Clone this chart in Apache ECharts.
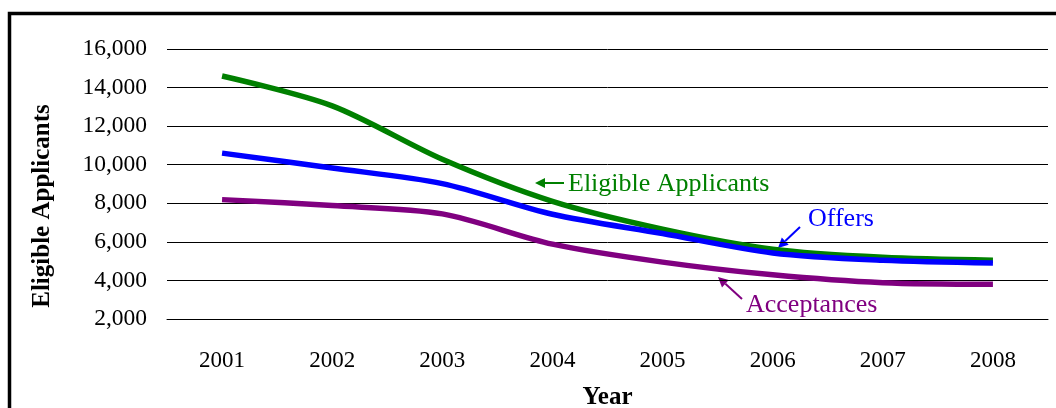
<!DOCTYPE html>
<html>
<head>
<meta charset="utf-8">
<script src="https://cdn.jsdelivr.net/npm/echarts@6/dist/echarts.min.js"></script>
<style>
  html, body { margin: 0; padding: 0; background: #fff; }
  #chart { width: 1056px; height: 408px; }
</style>
</head>
<body>
<div id="chart"></div>
<script>
const years = ['2001', '2002', '2003', '2004', '2005', '2006', '2007', '2008']
const eligible = [14600, 13050, 10280, 8100, 6660, 5620, 5200, 5050]
const offers = [10600, 9830, 9020, 7430, 6430, 5420, 5040, 4900]
const acceptances = [8190, 7880, 7450, 5880, 4950, 4290, 3880, 3800]

const font = 'Liberation Serif'
const chart = echarts.init(document.getElementById('chart'))

// arrow = short line + triangle head
function arrow(tail, tip, color) {
  const dx = tip[0] - tail[0], dy = tip[1] - tail[1]
  const len = Math.sqrt(dx * dx + dy * dy)
  const ux = dx / len, uy = dy / len
  const bx = tip[0] - ux * 10, by = tip[1] - uy * 10
  const px = -uy * 5, py = ux * 5
  return [
    { type: 'line', shape: { x1: tail[0], y1: tail[1], x2: bx, y2: by }, style: { stroke: color, lineWidth: 2 } },
    { type: 'polygon', shape: { points: [tip, [bx + px, by + py], [bx - px, by - py]] }, style: { fill: color } }
  ]
}

function label(text, x, y, color) {
  return { type: 'text', left: x, top: y - 14, style: { text: text, fill: color, font: '26px "' + font + '"' } }
}

const option = {
  animation: false,
  grid: { left: 167, right: 8, top: 49, bottom: 89, outerBoundsMode: 'none', containLabel: false },
  xAxis: {
    type: 'category',
    data: years,
    name: 'Year',
    nameLocation: 'middle',
    nameGap: 66,
    nameTextStyle: { fontFamily: font, fontSize: 25, fontWeight: 'bold', color: '#000' },
    axisLine: { lineStyle: { color: '#000', width: 1 } },
    axisTick: { show: false },
    axisLabel: { fontFamily: font, fontSize: 23, color: '#000', margin: 30 }
  },
  yAxis: {
    type: 'value',
    min: 2000,
    max: 16000,
    interval: 2000,
    axisLine: { show: false },
    axisTick: { show: false },
    splitLine: { lineStyle: { color: '#000', width: 1 } },
    axisLabel: {
      fontFamily: font, fontSize: 23.5, color: '#000', margin: 20,
      formatter: v => v.toLocaleString('en-US')
    }
  },
  series: [
    { name: 'Eligible Applicants', type: 'line', data: eligible, smooth: 0.3, symbol: 'none', lineStyle: { color: '#008000', width: 5.5 } },
    { name: 'Offers', type: 'line', data: offers, smooth: 0.3, symbol: 'none', lineStyle: { color: '#0000ff', width: 5.5 } },
    { name: 'Acceptances', type: 'line', data: acceptances, smooth: 0.3, symbol: 'none', lineStyle: { color: '#800080', width: 5.5 } }
  ],
  graphic: [
    { type: 'rect', shape: { x: 9.5, y: 13.5, width: 1100, height: 450 }, style: { fill: 'none', stroke: '#000', lineWidth: 3.5 }, z: 10 },
    // y axis title sits a bit below the plot centre in the original
    {
      type: 'text', x: 43, y: 206, rotation: Math.PI / 2,
      style: { text: 'Eligible Applicants', fill: '#000', font: 'bold 25px "' + font + '"', align: 'center', verticalAlign: 'middle' }
    },
    label('Eligible Applicants', 568, 185, '#008000'),
    label('Offers', 808, 220, '#0000ff'),
    label('Acceptances', 746, 306, '#800080'),
    ...arrow([564, 183], [535, 183], '#008000'),
    ...arrow([800, 227], [778, 248], '#0000ff'),
    ...arrow([742, 299], [718, 277], '#800080')
  ]
}
chart.setOption(option)
</script>
</body>
</html>
